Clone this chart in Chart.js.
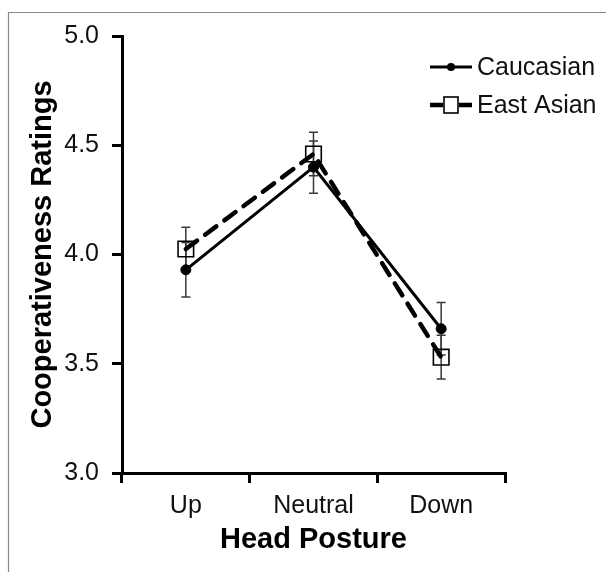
<!DOCTYPE html>
<html>
<head>
<meta charset="utf-8">
<script src="https://cdn.jsdelivr.net/npm/chart.js@4"></script>
<style>
  html, body { margin: 0; padding: 0; background: #fff; }
  canvas { display: block; }
</style>
</head>
<body>
<canvas id="c" width="606" height="572"></canvas>
<script>
const categories = ['Up', 'Neutral', 'Down'];
const seriesNames = ['Caucasian', 'East Asian'];
const caucasian = [3.93, 4.40, 3.66];
const caucasianErr = [0.125, 0.12, 0.12];
const eastAsian = [4.025, 4.46, 3.53];
const eastAsianErr = [0.10, 0.10, 0.10];
const yMin = 3.0, yMax = 5.0, yStep = 0.5;
const xTitle = 'Head Posture';
const yTitle = 'Cooperativeness Ratings';

const FONT = "'Liberation Sans', Arial, sans-serif";

const framePlugin = {
  id: 'frame',
  beforeDraw(chart) {
    const ctx = chart.ctx;
    ctx.save();
    ctx.fillStyle = '#fff';
    ctx.fillRect(0, 0, chart.width, chart.height);
    ctx.strokeStyle = '#8a8a8a';
    ctx.lineWidth = 1.2;
    ctx.beginPath();
    ctx.moveTo(8.5, chart.height);
    ctx.lineTo(8.5, 12.5);
    ctx.lineTo(chart.width, 12.5);
    ctx.stroke();
    ctx.restore();
  }
};

const errorBarPlugin = {
  id: 'errorBars',
  beforeDatasetsDraw(chart) {
    const ctx = chart.ctx;
    const ys = chart.scales.y;
    ctx.save();
    ctx.strokeStyle = '#3a3a3a';
    ctx.lineWidth = 1.5;
    chart.data.datasets.forEach((ds, di) => {
      const meta = chart.getDatasetMeta(di);
      meta.data.forEach((pt, i) => {
        const v = ds.data[i], e = ds.err[i];
        const yt = ys.getPixelForValue(v + e);
        const yb = ys.getPixelForValue(v - e);
        const x = pt.x;
        ctx.beginPath();
        ctx.moveTo(x, yt); ctx.lineTo(x, yb);
        ctx.moveTo(x - 4.5, yt); ctx.lineTo(x + 4.5, yt);
        ctx.moveTo(x - 4.5, yb); ctx.lineTo(x + 4.5, yb);
        ctx.stroke();
      });
    });
    ctx.restore();
  }
};

const legendPlugin = {
  id: 'customLegend',
  afterDraw(chart) {
    const ctx = chart.ctx;
    const a = chart.chartArea;
    const x0 = a.right - 75, x1 = a.right - 33, tx = a.right - 28;
    const rows = [a.top + 31, a.top + 69];
    ctx.save();
    chart.data.datasets.forEach((ds, di) => {
      const y = rows[di];
      ctx.strokeStyle = '#000';
      ctx.lineWidth = ds.borderWidth;
      ctx.lineCap = 'butt';
      if (di === 0) {
        ctx.beginPath(); ctx.moveTo(x0, y); ctx.lineTo(x1, y); ctx.stroke();
        ctx.fillStyle = '#000';
        ctx.beginPath(); ctx.arc((x0 + x1) / 2, y, 4, 0, Math.PI * 2); ctx.fill();
      } else {
        ctx.beginPath(); ctx.moveTo(x0, y); ctx.lineTo(x0 + 13, y);
        ctx.moveTo(x1 - 13, y); ctx.lineTo(x1, y); ctx.stroke();
        const cx = (x0 + x1) / 2;
        ctx.fillStyle = '#fff';
        ctx.lineWidth = 1.6;
        ctx.fillRect(cx - 7, y - 8, 14, 16);
        ctx.strokeRect(cx - 7, y - 8, 14, 16);
      }
      ctx.fillStyle = '#111';
      ctx.font = '25px ' + FONT;
      ctx.textBaseline = 'middle';
      ctx.textAlign = 'left';
      ctx.fillText(ds.label, tx, y + 1);
    });
    ctx.restore();
  }
};

new Chart(document.getElementById('c'), {
  type: 'line',
  data: {
    labels: categories,
    datasets: [
      {
        label: seriesNames[0],
        data: caucasian,
        err: caucasianErr,
        borderColor: '#000',
        borderWidth: 3,
        pointStyle: 'circle',
        pointRadius: 5,
        pointBackgroundColor: '#000',
        pointBorderColor: '#000',
        pointBorderWidth: 1,
        tension: 0
      },
      {
        label: seriesNames[1],
        data: eastAsian,
        err: eastAsianErr,
        borderColor: '#000',
        borderWidth: 4.5,
        borderDash: [14, 10],
        borderCapStyle: 'round',
        pointStyle: 'rect',
        pointRadius: 11,
        pointBackgroundColor: 'rgba(0,0,0,0)',
        pointBorderColor: '#000',
        pointBorderWidth: 1.6,
        tension: 0
      }
    ]
  },
  options: {
    responsive: false,
    animation: false,
    devicePixelRatio: 1,
    layout: { padding: { left: 0, top: 36, right: 101, bottom: 0 } },
    plugins: { legend: { display: false }, tooltip: { enabled: false } },
    scales: {
      x: {
        type: 'category',
        offset: true,
        grid: { offset: true, drawOnChartArea: false, tickLength: 10, lineWidth: 3, color: '#000' },
        border: { width: 3, color: '#000' },
        ticks: { color: '#111', font: { family: FONT, size: 25 }, padding: 8 },
        title: { display: true, text: xTitle, color: '#000', font: { family: FONT, size: 29, weight: 'bold' }, padding: 15 },
        afterFit(s) { s.height = 99; }
      },
      y: {
        min: yMin, max: yMax,
        grid: { drawOnChartArea: false, tickLength: 10, lineWidth: 3, color: '#000' },
        border: { width: 3, color: '#000' },
        ticks: { stepSize: yStep, color: '#111', font: { family: FONT, size: 25 }, padding: 13,
                 callback: v => Number(v).toFixed(1) },
        title: { display: true, text: yTitle, color: '#000', font: { family: FONT, size: 29, weight: 'bold' }, padding: 26 },
        afterFit(s) { s.width = 122; }
      }
    }
  },
  plugins: [framePlugin, errorBarPlugin, legendPlugin]
});
</script>
</body>
</html>
